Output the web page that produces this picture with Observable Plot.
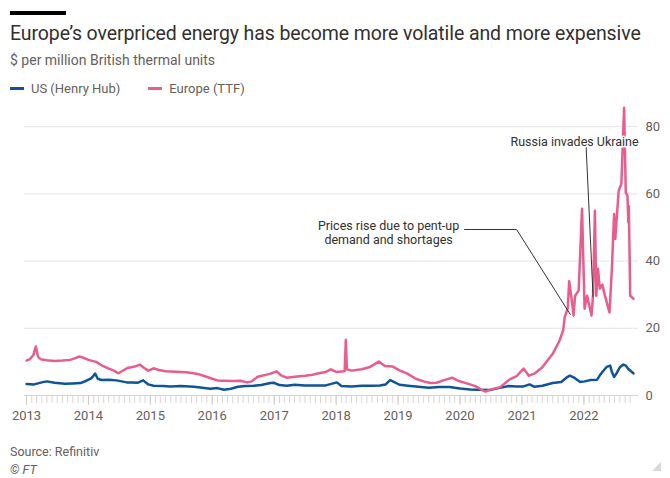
<!DOCTYPE html>
<html>
<head>
<meta charset="utf-8">
<script src="https://cdn.jsdelivr.net/npm/d3@7"></script>
<script src="https://cdn.jsdelivr.net/npm/@observablehq/plot@0.6"></script>
<style>
  html, body { margin: 0; padding: 0; background: #fff; }
  body { width: 670px; height: 478px; position: relative; overflow: hidden; font-family: Roboto, "Noto Sans", sans-serif; }
  .bar { position: absolute; left: 10px; top: 11px; width: 56px; height: 4px; background: #000; }
  .title { position: absolute; left: 10px; top: 22px; font-size: 19.5px; color: #33302e; white-space: nowrap; letter-spacing: -0.1px; }
  .subtitle { position: absolute; left: 10px; top: 52px; font-size: 14px; color: #66605c; white-space: nowrap; }
  .legend { position: absolute; left: 10px; top: 81px; font-size: 13px; color: #66605c; white-space: nowrap; display: flex; align-items: center; }
  .legend .sw { display: inline-block; width: 14px; height: 3px; margin-right: 7px; }
  .legend .item { display: flex; align-items: center; margin-right: 28px; }
  #chart { position: absolute; left: 0; top: 100px; }
  .source { position: absolute; left: 10px; top: 444px; font-size: 12.5px; color: #66605c; }
  .ft { position: absolute; left: 10px; top: 462px; font-size: 12.5px; color: #66605c; font-style: italic; }
  .grip { position: absolute; left: 652px; top: 462px; width: 0; height: 0; border-left: 9px solid transparent; border-bottom: 9px solid #d9d9d9; }
</style>
</head>
<body>
<div class="bar"></div>
<div class="title">Europe’s overpriced energy has become more volatile and more expensive</div>
<div class="subtitle">$ per million British thermal units</div>
<div class="legend" id="legend"></div>
<div id="chart"></div>
<div class="source">Source: Refinitiv</div>
<div class="ft">© FT</div>
<div class="grip"></div>
<script>
// ---- Data ----
const seriesNames = ["US (Henry Hub)", "Europe (TTF)"];
const seriesColors = ["#0f5499", "#e95d8c"];

const usDates = ["2013-01-01","2013-02-15","2013-04-01","2013-05-01","2013-06-15","2013-08-15","2013-10-01","2013-11-15","2013-12-20",
  "2014-01-20","2014-02-10","2014-02-25","2014-03-20","2014-05-01","2014-06-15","2014-08-15","2014-09-15","2014-10-20","2014-11-20","2014-12-20",
  "2015-01-20","2015-03-15","2015-05-01","2015-07-01","2015-09-15","2015-11-15","2015-12-20",
  "2016-02-01","2016-03-10","2016-04-20","2016-06-01","2016-07-15","2016-09-01","2016-10-15","2016-12-10","2016-12-28",
  "2017-02-01","2017-03-15","2017-05-01","2017-07-01","2017-09-01","2017-11-01",
  "2018-01-05","2018-02-01","2018-04-01","2018-06-01","2018-08-01","2018-09-15","2018-10-20","2018-11-15","2018-12-01",
  "2019-01-10","2019-03-01","2019-05-01","2019-07-01","2019-09-01","2019-11-01",
  "2020-01-01","2020-03-01","2020-04-15","2020-06-25","2020-08-15","2020-10-15","2020-12-01",
  "2021-01-10","2021-02-15","2021-03-15","2021-05-01","2021-07-01","2021-08-20","2021-09-20","2021-10-10","2021-11-01","2021-12-10",
  "2022-01-05","2022-02-10","2022-03-20","2022-04-05","2022-04-20","2022-05-15","2022-06-05","2022-06-15","2022-06-28","2022-07-15","2022-08-01","2022-08-22","2022-09-05","2022-09-20","2022-10-20"];
const usValues = [3.4,3.3,3.9,4.2,3.8,3.5,3.6,3.7,4.4,
  5.2,6.5,5.0,4.6,4.7,4.5,3.9,3.9,3.8,4.5,3.3,
  2.9,2.8,2.7,2.8,2.6,2.2,2.0,
  2.2,1.7,2.0,2.6,2.8,2.9,3.1,3.7,3.8,
  3.1,2.9,3.2,3.0,3.0,3.0,
  3.9,2.8,2.7,2.9,2.9,3.0,3.3,4.6,4.2,
  3.2,2.9,2.6,2.3,2.5,2.5,
  2.1,1.8,1.7,1.6,2.2,2.8,2.7,
  2.7,3.3,2.6,2.9,3.7,4.0,5.3,5.9,5.4,4.0,
  4.2,4.6,4.7,6.0,7.0,8.5,8.9,7.0,5.5,6.8,8.4,9.2,8.9,7.9,6.6];

const euDates = ["2013-01-01","2013-01-20","2013-02-10","2013-02-25","2013-03-10","2013-03-25","2013-05-01","2013-06-15","2013-08-01","2013-09-15","2013-10-20","2013-11-05","2013-12-01",
  "2014-01-01","2014-02-15","2014-03-20","2014-05-01","2014-06-01","2014-06-25","2014-07-20","2014-08-20","2014-10-01","2014-11-01","2014-11-20","2014-12-20",
  "2015-01-20","2015-02-20","2015-04-01","2015-06-01","2015-08-01","2015-10-01","2015-11-15",
  "2016-01-01","2016-02-01","2016-03-15","2016-05-01","2016-06-15","2016-07-25","2016-08-20","2016-09-25","2016-11-01","2016-12-10",
  "2017-01-15","2017-02-10","2017-03-15","2017-05-01","2017-07-01","2017-08-15","2017-09-20","2017-11-01","2017-12-01",
  "2018-01-01","2018-02-20","2018-02-27","2018-03-05","2018-04-01","2018-06-01","2018-07-20","2018-09-10","2018-10-15","2018-12-01",
  "2019-01-10","2019-02-25","2019-04-15","2019-06-01","2019-07-10","2019-08-15","2019-09-25","2019-11-15","2019-12-20",
  "2020-02-10","2020-04-01","2020-05-15","2020-06-01","2020-07-01","2020-08-25","2020-10-20","2020-12-01",
  "2021-01-10","2021-02-10","2021-03-15","2021-05-01","2021-06-01","2021-07-01","2021-08-10","2021-09-01","2021-09-10","2021-09-28","2021-10-06","2021-10-20","2021-11-01","2021-11-10","2021-12-01","2021-12-21",
  "2022-01-05","2022-01-20","2022-02-15","2022-02-24","2022-03-07","2022-03-15","2022-03-25","2022-04-05","2022-04-20","2022-05-05","2022-06-01","2022-06-15","2022-06-28","2022-07-05","2022-07-25","2022-08-10","2022-08-26","2022-09-05","2022-09-15","2022-09-20","2022-09-23","2022-10-01","2022-10-20"];
const euValues = [10.4,10.8,12.0,14.6,11.5,10.8,10.5,10.3,10.4,10.6,11.2,11.6,11.3,
  10.6,10.0,9.0,8.0,7.4,6.6,7.3,8.2,8.6,9.2,8.4,7.4,
  8.1,7.6,7.2,7.1,6.9,6.5,5.8,
  5.0,4.5,4.4,4.3,4.4,3.9,4.2,5.6,6.0,6.5,
  7.2,6.0,5.3,5.6,5.9,6.2,6.6,7.0,7.8,
  7.0,7.2,16.6,7.8,7.4,7.8,8.5,10.1,8.8,8.6,
  7.5,6.5,5.0,4.2,3.7,3.8,4.5,5.3,4.4,
  3.6,2.8,1.5,1.2,1.8,2.5,4.8,5.8,
  8.0,5.9,6.5,8.4,10.5,12.4,16.3,19.5,23.3,26.0,34.0,29.0,23.8,29.7,31.2,55.6,
  25.8,29.7,23.8,30.0,55.0,29.7,37.7,31.8,33.0,29.7,24.7,37.7,54.0,46.6,60.9,63.0,85.6,60.4,59.4,51.5,56.4,29.7,28.8];

const yTicks = [0, 20, 40, 60, 80];
const gridTicks = [20, 40, 60, 80];

// annotations (anchored in data space)
const annoLabels = ["Russia invades Ukraine", "Prices rise due to pent-up\ndemand and shortages"];
const annoTextDates = ["2021-11-07", "2018-11-06"];
const annoTextValues = [75.5, 48.5];
const annoAnchors = ["end", "middle"];
const russiaPathDates = ["2021-11-24", "2022-01-12", "2022-02-24"];
const russiaPathValues = [76.4, 76.4, 29.5];
const pricesPathDates = ["2020-01-28", "2020-11-30", "2021-10-13"];
const pricesPathValues = [49.4, 49.4, 24.1];

// ---- Build tables ----
const parse = d3.utcParse("%Y-%m-%d");
const rows = [
  ...usDates.map((d, i) => ({date: parse(d), value: usValues[i], series: seriesNames[0]})),
  ...euDates.map((d, i) => ({date: parse(d), value: euValues[i], series: seriesNames[1]}))
];
const annoText = annoLabels.map((t, i) => ({text: t, date: parse(annoTextDates[i]), value: annoTextValues[i], anchor: annoAnchors[i]}));
const russiaPath = russiaPathDates.map((d, i) => ({date: parse(d), value: russiaPathValues[i]}));
const pricesPath = pricesPathDates.map((d, i) => ({date: parse(d), value: pricesPathValues[i]}));

const xDomain = [parse("2012-12-20"), parse("2022-11-19")];
const monthTicks = d3.utcMonths(parse("2013-01-01"), parse("2022-11-01"));
const yearTicks = d3.utcYears(parse("2013-01-01"), parse("2023-01-01"));

// legend
const legend = document.getElementById("legend");
seriesNames.forEach((n, i) => {
  const it = document.createElement("span");
  it.className = "item";
  it.innerHTML = `<span class="sw" style="background:${seriesColors[i]}"></span>${n}`;
  legend.appendChild(it);
});

const chart = Plot.plot({
  width: 670,
  height: 330,
  marginLeft: 24,
  marginRight: 32,
  marginTop: 6,
  marginBottom: 35,
  style: {fontFamily: "Roboto, sans-serif", fontSize: "13px", color: "#66605c", background: "#fff"},
  x: {type: "utc", domain: xDomain},
  y: {domain: [0, 86]},
  color: {domain: seriesNames, range: seriesColors},
  marks: [
    Plot.gridY(gridTicks, {stroke: "#e8e4e0", strokeOpacity: 1}),
    Plot.ruleY([0], {stroke: "#d6d2ce"}),
    Plot.axisX({ticks: monthTicks, tickSize: 8, tickFormat: () => "", stroke: "#dad6d2"}),
    Plot.axisX({ticks: yearTicks.filter(d => d <= xDomain[1]), tickSize: 10, tickPadding: 5, tickFormat: d3.utcFormat("%Y"), stroke: "#d0ccc8", fill: "#66605c", fontSize: 13}),
    Plot.axisY({anchor: "right", ticks: yTicks, tickSize: 0, tickPadding: 7, fill: "#66605c", fontSize: 13, label: null}),
    Plot.line(rows, {x: "date", y: "value", z: "series", stroke: "series", strokeWidth: 2.5, curve: "linear"}),
    Plot.line(russiaPath, {x: "date", y: "value", stroke: "#333", strokeWidth: 1}),
    Plot.line(pricesPath, {x: "date", y: "value", stroke: "#333", strokeWidth: 1}),
    Plot.text(annoText, {x: "date", y: "value", text: "text", textAnchor: "anchor", fill: "#33302e", fontSize: 12.5, lineHeight: 1.1, lineAnchor: "middle", stroke: "#fff", strokeWidth: 3, paintOrder: "stroke"})
  ]
});
document.getElementById("chart").appendChild(chart);
</script>
</body>
</html>
